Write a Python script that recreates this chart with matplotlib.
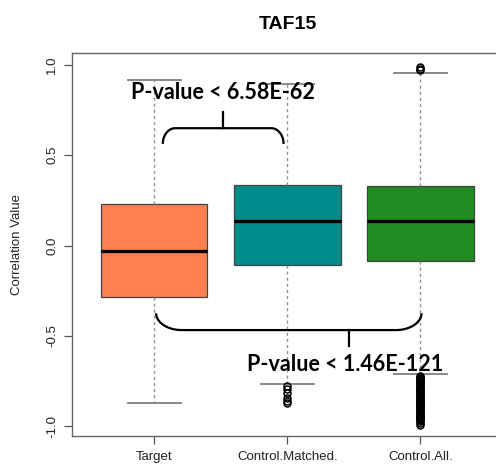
import numpy as np
import matplotlib
matplotlib.use("Agg")
import matplotlib.pyplot as plt

plt.rcParams['font.family'] = ['Liberation Sans', 'DejaVu Sans']

# box statistics
groups = ["Target", "Control.Matched.", "Control.All."]
colors = ["#ff7f50", "#008b8b", "#228b22"]
q1 = [-0.286, -0.107, -0.083]
med = [-0.028, 0.137, 0.137]
q3 = [0.232, 0.338, 0.332]
whislo = [-0.869, -0.767, -0.712]
whishi = [0.917, 0.895, 0.957]
fliers = [
    [],
    [-0.775, -0.795, -0.817, -0.840, -0.860, -0.872],
    [0.970, 0.980, 0.988,
     -0.722, -0.727, -0.733, -0.738, -0.744, -0.750, -0.756, -0.762,
     -0.768, -0.774, -0.780, -0.786, -0.792, -0.798, -0.804, -0.810,
     -0.816, -0.822, -0.828, -0.834, -0.840, -0.846, -0.852, -0.858,
     -0.864, -0.870, -0.876, -0.882, -0.888, -0.894, -0.900, -0.906,
     -0.912, -0.918, -0.924, -0.930, -0.936, -0.942, -0.948, -0.954,
     -0.960, -0.966, -0.972, -0.980, -0.990],
]

pvals = ["P-value < 6.58E-62", "P-value < 1.46E-121"]
yticks = [-1.0, -0.5, 0.0, 0.5, 1.0]


def brace(ax, x0, x1, y_end, y_bar, xc, y_tip, corner):
    # horizontal bar with rounded corners bending towards y_end
    t = np.linspace(0, np.pi / 2, 30)
    dy = y_bar - y_end
    lx = x0 + corner - corner * np.cos(t)
    ly = y_end + dy * np.sin(t)
    rx = x1 - corner + corner * np.cos(t[::-1])
    ry = y_end + dy * np.sin(t[::-1])
    ax.plot(np.concatenate([lx, rx]), np.concatenate([ly, ry]),
            color="black", lw=1.6, solid_capstyle="butt", zorder=5)
    ax.plot([xc, xc], [y_bar, y_tip], color="black", lw=1.6, zorder=5)


def main():
    fig = plt.figure(figsize=(4.96, 4.68), dpi=100)
    ax = fig.add_axes([72 / 496, 32 / 468, 431 / 496, 383 / 468])

    stats = []
    for i in range(len(groups)):
        stats.append(dict(med=med[i], q1=q1[i], q3=q3[i],
                          whislo=whislo[i], whishi=whishi[i],
                          fliers=fliers[i], label=groups[i]))

    bp = ax.bxp(stats, positions=[1, 2, 3], widths=0.8, patch_artist=True,
                boxprops=dict(edgecolor="#444444", linewidth=0.9),
                medianprops=dict(color="black", linewidth=2.4),
                whiskerprops=dict(color="#909090", linewidth=1.0,
                                  linestyle=(0, (2.2, 2.2))),
                capprops=dict(color="#808080", linewidth=1.3),
                capwidths=0.4,
                flierprops=dict(marker="o", markerfacecolor="none",
                                markeredgecolor="black", markersize=5,
                                markeredgewidth=1.1))
    for patch, c in zip(bp["boxes"], colors):
        patch.set_facecolor(c)

    ax.set_xlim(0.383, 3.62)
    ax.set_ylim(-1.053, 1.066)
    ax.set_yticks(yticks)
    ax.set_yticklabels(["%.1f" % v for v in yticks], rotation=90, va="center")
    ax.set_xticks([1, 2, 3])
    ax.set_xticklabels(groups)
    ax.tick_params(axis="both", length=6, width=0.9, color="#555555",
                   labelsize=9.5, labelcolor="#222222")
    ax.tick_params(axis="y", pad=4)
    ax.tick_params(axis="x", pad=5)
    for s in ax.spines.values():
        s.set_color("#666666")
        s.set_linewidth(1.0)

    ax.set_ylabel("Correlation Value", fontsize=9.5, labelpad=17,
                  color="#222222")
    ax.set_title("TAF15", fontsize=14, fontweight="bold", pad=17)

    brace(ax, 1.065, 1.972, 0.563, 0.650, 1.517, 0.742, 0.093)
    brace(ax, 1.015, 3.008, -0.374, -0.467, 2.466, -0.555, 0.193)
    ax.text(1.519, 0.845, pvals[0], ha="center", va="center",
            fontsize=15.5, fontweight="bold", family=["Lato", "DejaVu Sans"])
    ax.text(2.432, -0.660, pvals[1], ha="center", va="center",
            fontsize=15.5, fontweight="bold", family=["Lato", "DejaVu Sans"])

    fig.savefig("out.png", dpi=100)


if __name__ == "__main__":
    main()
